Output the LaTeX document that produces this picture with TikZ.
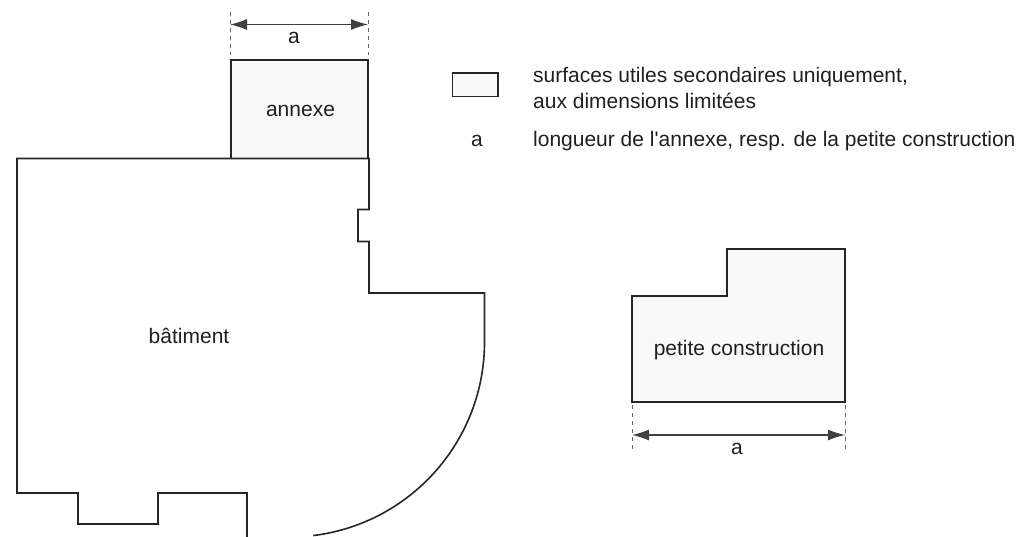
\documentclass[tikz,border=0pt]{standalone}
\usepackage{fontspec}
\setmainfont{Liberation Sans}
\usetikzlibrary{arrows.meta}
\tikzset{
    wall/.style={line width=1.6pt, color=black!85},
    usable/.style={line width=1.9pt, color=black!85, fill=gray!5},
    dimline/.style={<->, >={Latex[length=17pt,width=11pt]}, line width=1.2pt, color=black!75},
    extline/.style={dash pattern=on 4pt off 4pt, line width=1pt, color=black!60},
    label/.style={font=\fontsize{21}{25}\selectfont, text=black!88, inner sep=0pt, anchor=base}
}
\begin{document}
\begin{tikzpicture}[x=1pt,y=-1pt]
    \useasboundingbox ( 0, 0 ) rectangle ( 1020, 537 );

    % annexe
    \draw [usable] ( 231, 60 ) rectangle ( 368, 158.5 );
    \node [label] (annexe) at ( 300.5, 117 ) {annexe};

    % batiment
    \draw [wall] ( 247, 537 ) -- ( 247, 493 ) -- ( 158, 493 ) -- ( 158, 524 ) -- ( 78, 524 ) -- ( 78, 493 ) -- ( 17, 493 ) -- ( 17, 158.5 ) -- ( 369, 158.5 ) -- ( 369, 209.5 ) -- ( 358, 209.5 ) -- ( 358, 241.5 ) -- ( 369, 241.5 ) -- ( 369, 293 ) -- ( 484.5, 293 ) -- ( 484.5, 342 ) arc [start angle=0, end angle=83, radius=195];
    \node [label] (batiment) at ( 189, 343 ) {bâtiment};

    % petite construction
    \draw [usable] ( 632, 296 ) -- ( 727, 296 ) -- ( 727, 249 ) -- ( 845, 249 ) -- ( 845, 402 ) -- ( 632, 402 ) -- cycle;
    \node [label] (petite) at ( 739, 355 ) {petite construction};

    % cotes
    \coordinate (annexeA) at ( 230, 12 );
    \coordinate (annexeB) at ( 230, 55 );
    \coordinate (annexeC) at ( 368, 12 );
    \coordinate (annexeD) at ( 368, 55 );
    \coordinate (annexeL) at ( 230, 24.5 );
    \coordinate (annexeR) at ( 368, 24.5 );
    \draw [extline] (annexeA) -- (annexeB);
    \draw [extline] (annexeC) -- (annexeD);
    \draw [dimline] (annexeL) -- (annexeR);
    \node [label] (cotea) at ( 294, 44 ) {a};

    \coordinate (petiteA) at ( 632, 405 );
    \coordinate (petiteB) at ( 632, 452 );
    \coordinate (petiteC) at ( 845, 405 );
    \coordinate (petiteD) at ( 845, 452 );
    \coordinate (petiteL) at ( 632, 435 );
    \coordinate (petiteR) at ( 845, 435 );
    \draw [extline] (petiteA) -- (petiteB);
    \draw [extline] (petiteC) -- (petiteD);
    \draw [dimline] (petiteL) -- (petiteR);
    \node [label] (coteb) at ( 737, 454 ) {a};

    % legende
    \draw [usable] ( 452.5, 73 ) rectangle ( 498, 96.5 );
    \node [label, anchor=base west] (legendeA) at ( 533, 83 ) {surfaces utiles secondaires uniquement,};
    \node [label, anchor=base west] (legendeB) at ( 533, 109 ) {aux dimensions limitées};
    \node [label] (legendeC) at ( 477, 147 ) {a};
    \node [label, anchor=base west] (legendeD) at ( 533, 147 ) {longueur de l\textquotesingle annexe, resp. de la petite construction};
\end{tikzpicture}
\end{document}
